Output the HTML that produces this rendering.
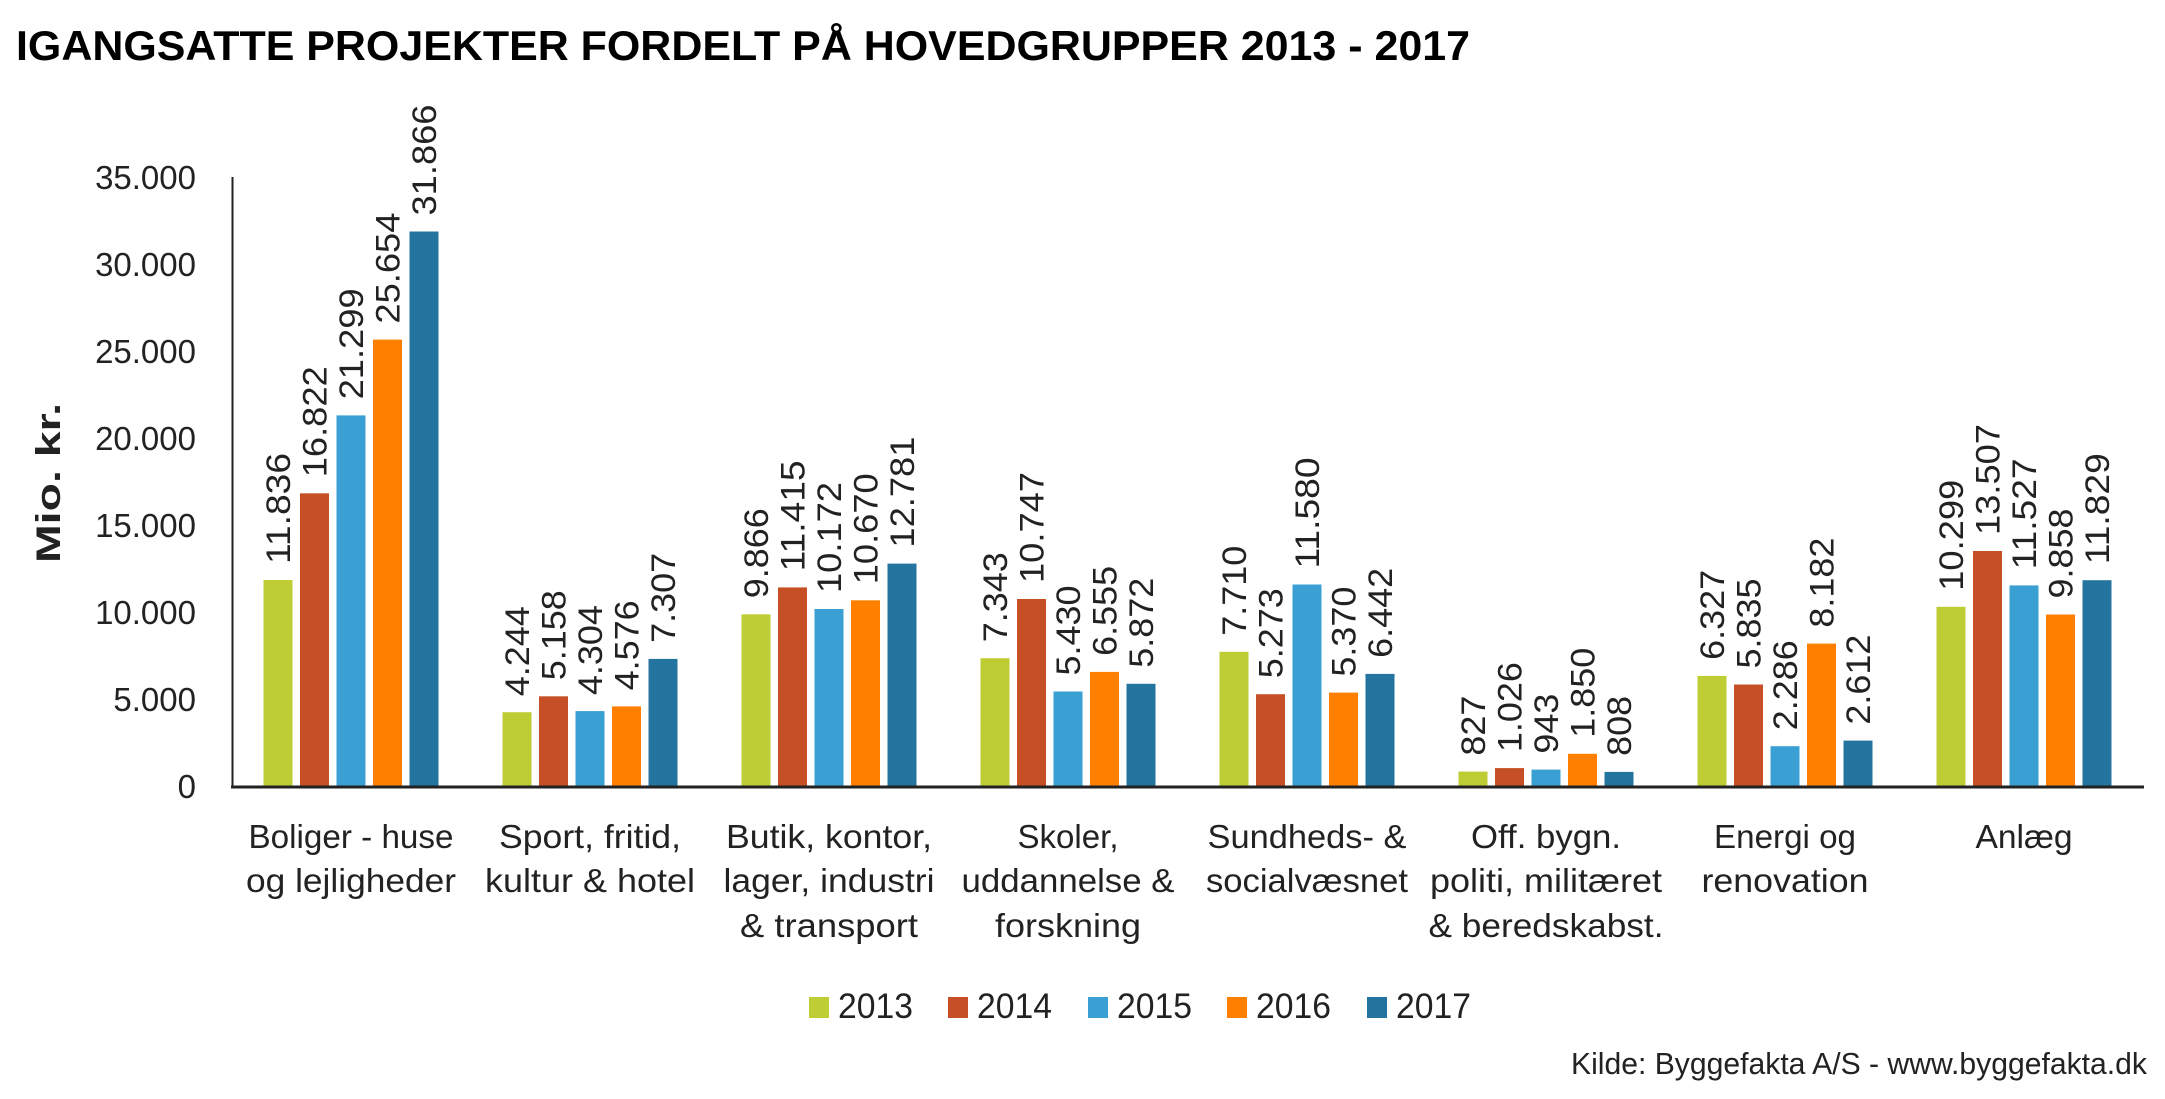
<!DOCTYPE html>
<html><head><meta charset="utf-8"><style>
html,body{margin:0;padding:0;background:#fff;}
svg{display:block;font-family:"Liberation Sans",sans-serif;}
</style></head><body>
<svg width="2165" height="1099" viewBox="0 0 2165 1099" xmlns="http://www.w3.org/2000/svg">
<text x="16" y="60" font-size="42" font-weight="bold" textLength="1454" lengthAdjust="spacingAndGlyphs" fill="#000">IGANGSATTE PROJEKTER FORDELT PÅ HOVEDGRUPPER 2013 - 2017</text>

<g font-size="33" fill="#222" text-anchor="end">
<text x="196" y="798">0</text>
<text x="196" y="711">5.000</text>
<text x="196" y="624">10.000</text>
<text x="196" y="537">15.000</text>
<text x="196" y="450">20.000</text>
<text x="196" y="363">25.000</text>
<text x="196" y="276">30.000</text>
<text x="196" y="189">35.000</text>
</g>
<text transform="translate(60,483) rotate(-90)" font-size="34" font-weight="bold" text-anchor="middle" textLength="160" lengthAdjust="spacingAndGlyphs" fill="#222">Mio. kr.</text>

<line x1="232.5" y1="177" x2="232.5" y2="787" stroke="#222" stroke-width="2"/>

<g font-size="34" fill="#222">
<g transform="translate(351,0)">
<rect x="-87.5" y="580" width="29" height="206" fill="#bfcd34"/>
<rect x="-51" y="493.3" width="29" height="292.7" fill="#c74f26"/>
<rect x="-14.5" y="415.4" width="29" height="370.6" fill="#3a9fd3"/>
<rect x="22" y="339.6" width="29" height="446.4" fill="#ff7f00"/>
<rect x="58.5" y="231.5" width="29" height="554.5" fill="#23749e"/>
<text transform="translate(-61,564) rotate(-90)" textLength="111" lengthAdjust="spacingAndGlyphs">11.836</text>
<text transform="translate(-24.5,477.3) rotate(-90)" textLength="111" lengthAdjust="spacingAndGlyphs">16.822</text>
<text transform="translate(12,399.4) rotate(-90)" textLength="111" lengthAdjust="spacingAndGlyphs">21.299</text>
<text transform="translate(48.5,323.6) rotate(-90)" textLength="111" lengthAdjust="spacingAndGlyphs">25.654</text>
<text transform="translate(85,215.5) rotate(-90)" textLength="111" lengthAdjust="spacingAndGlyphs">31.866</text>
</g>
<g transform="translate(590,0)">
<rect x="-87.5" y="712.2" width="29" height="73.8" fill="#bfcd34"/>
<rect x="-51" y="696.3" width="29" height="89.7" fill="#c74f26"/>
<rect x="-14.5" y="711.1" width="29" height="74.9" fill="#3a9fd3"/>
<rect x="22" y="706.4" width="29" height="79.6" fill="#ff7f00"/>
<rect x="58.5" y="658.9" width="29" height="127.1" fill="#23749e"/>
<text transform="translate(-61,696.2) rotate(-90)" textLength="90" lengthAdjust="spacingAndGlyphs">4.244</text>
<text transform="translate(-24.5,680.3) rotate(-90)" textLength="90" lengthAdjust="spacingAndGlyphs">5.158</text>
<text transform="translate(12,695.1) rotate(-90)" textLength="90" lengthAdjust="spacingAndGlyphs">4.304</text>
<text transform="translate(48.5,690.4) rotate(-90)" textLength="90" lengthAdjust="spacingAndGlyphs">4.576</text>
<text transform="translate(85,642.9) rotate(-90)" textLength="90" lengthAdjust="spacingAndGlyphs">7.307</text>
</g>
<g transform="translate(829,0)">
<rect x="-87.5" y="614.3" width="29" height="171.7" fill="#bfcd34"/>
<rect x="-51" y="587.4" width="29" height="198.6" fill="#c74f26"/>
<rect x="-14.5" y="609" width="29" height="177" fill="#3a9fd3"/>
<rect x="22" y="600.3" width="29" height="185.7" fill="#ff7f00"/>
<rect x="58.5" y="563.6" width="29" height="222.4" fill="#23749e"/>
<text transform="translate(-61,598.3) rotate(-90)" textLength="90" lengthAdjust="spacingAndGlyphs">9.866</text>
<text transform="translate(-24.5,571.4) rotate(-90)" textLength="111" lengthAdjust="spacingAndGlyphs">11.415</text>
<text transform="translate(12,593) rotate(-90)" textLength="111" lengthAdjust="spacingAndGlyphs">10.172</text>
<text transform="translate(48.5,584.3) rotate(-90)" textLength="111" lengthAdjust="spacingAndGlyphs">10.670</text>
<text transform="translate(85,547.6) rotate(-90)" textLength="111" lengthAdjust="spacingAndGlyphs">12.781</text>
</g>
<g transform="translate(1068,0)">
<rect x="-87.5" y="658.2" width="29" height="127.8" fill="#bfcd34"/>
<rect x="-51" y="599" width="29" height="187" fill="#c74f26"/>
<rect x="-14.5" y="691.5" width="29" height="94.5" fill="#3a9fd3"/>
<rect x="22" y="671.9" width="29" height="114.1" fill="#ff7f00"/>
<rect x="58.5" y="683.8" width="29" height="102.2" fill="#23749e"/>
<text transform="translate(-61,642.2) rotate(-90)" textLength="90" lengthAdjust="spacingAndGlyphs">7.343</text>
<text transform="translate(-24.5,583) rotate(-90)" textLength="111" lengthAdjust="spacingAndGlyphs">10.747</text>
<text transform="translate(12,675.5) rotate(-90)" textLength="90" lengthAdjust="spacingAndGlyphs">5.430</text>
<text transform="translate(48.5,655.9) rotate(-90)" textLength="90" lengthAdjust="spacingAndGlyphs">6.555</text>
<text transform="translate(85,667.8) rotate(-90)" textLength="90" lengthAdjust="spacingAndGlyphs">5.872</text>
</g>
<g transform="translate(1307,0)">
<rect x="-87.5" y="651.8" width="29" height="134.2" fill="#bfcd34"/>
<rect x="-51" y="694.2" width="29" height="91.8" fill="#c74f26"/>
<rect x="-14.5" y="584.5" width="29" height="201.5" fill="#3a9fd3"/>
<rect x="22" y="692.6" width="29" height="93.4" fill="#ff7f00"/>
<rect x="58.5" y="673.9" width="29" height="112.1" fill="#23749e"/>
<text transform="translate(-61,635.8) rotate(-90)" textLength="90" lengthAdjust="spacingAndGlyphs">7.710</text>
<text transform="translate(-24.5,678.2) rotate(-90)" textLength="90" lengthAdjust="spacingAndGlyphs">5.273</text>
<text transform="translate(12,568.5) rotate(-90)" textLength="111" lengthAdjust="spacingAndGlyphs">11.580</text>
<text transform="translate(48.5,676.6) rotate(-90)" textLength="90" lengthAdjust="spacingAndGlyphs">5.370</text>
<text transform="translate(85,657.9) rotate(-90)" textLength="90" lengthAdjust="spacingAndGlyphs">6.442</text>
</g>
<g transform="translate(1546,0)">
<rect x="-87.5" y="771.6" width="29" height="14.4" fill="#bfcd34"/>
<rect x="-51" y="768.1" width="29" height="17.9" fill="#c74f26"/>
<rect x="-14.5" y="769.6" width="29" height="16.4" fill="#3a9fd3"/>
<rect x="22" y="753.8" width="29" height="32.2" fill="#ff7f00"/>
<rect x="58.5" y="771.9" width="29" height="14.1" fill="#23749e"/>
<text transform="translate(-61,755.6) rotate(-90)" textLength="60" lengthAdjust="spacingAndGlyphs">827</text>
<text transform="translate(-24.5,752.1) rotate(-90)" textLength="90" lengthAdjust="spacingAndGlyphs">1.026</text>
<text transform="translate(12,753.6) rotate(-90)" textLength="60" lengthAdjust="spacingAndGlyphs">943</text>
<text transform="translate(48.5,737.8) rotate(-90)" textLength="90" lengthAdjust="spacingAndGlyphs">1.850</text>
<text transform="translate(85,755.9) rotate(-90)" textLength="60" lengthAdjust="spacingAndGlyphs">808</text>
</g>
<g transform="translate(1785,0)">
<rect x="-87.5" y="675.9" width="29" height="110.1" fill="#bfcd34"/>
<rect x="-51" y="684.5" width="29" height="101.5" fill="#c74f26"/>
<rect x="-14.5" y="746.2" width="29" height="39.8" fill="#3a9fd3"/>
<rect x="22" y="643.6" width="29" height="142.4" fill="#ff7f00"/>
<rect x="58.5" y="740.6" width="29" height="45.4" fill="#23749e"/>
<text transform="translate(-61,659.9) rotate(-90)" textLength="90" lengthAdjust="spacingAndGlyphs">6.327</text>
<text transform="translate(-24.5,668.5) rotate(-90)" textLength="90" lengthAdjust="spacingAndGlyphs">5.835</text>
<text transform="translate(12,730.2) rotate(-90)" textLength="90" lengthAdjust="spacingAndGlyphs">2.286</text>
<text transform="translate(48.5,627.6) rotate(-90)" textLength="90" lengthAdjust="spacingAndGlyphs">8.182</text>
<text transform="translate(85,724.6) rotate(-90)" textLength="90" lengthAdjust="spacingAndGlyphs">2.612</text>
</g>
<g transform="translate(2024,0)">
<rect x="-87.5" y="606.8" width="29" height="179.2" fill="#bfcd34"/>
<rect x="-51" y="551" width="29" height="235" fill="#c74f26"/>
<rect x="-14.5" y="585.4" width="29" height="200.6" fill="#3a9fd3"/>
<rect x="22" y="614.5" width="29" height="171.5" fill="#ff7f00"/>
<rect x="58.5" y="580.2" width="29" height="205.8" fill="#23749e"/>
<text transform="translate(-61,590.8) rotate(-90)" textLength="111" lengthAdjust="spacingAndGlyphs">10.299</text>
<text transform="translate(-24.5,535) rotate(-90)" textLength="111" lengthAdjust="spacingAndGlyphs">13.507</text>
<text transform="translate(12,569.4) rotate(-90)" textLength="111" lengthAdjust="spacingAndGlyphs">11.527</text>
<text transform="translate(48.5,598.5) rotate(-90)" textLength="90" lengthAdjust="spacingAndGlyphs">9.858</text>
<text transform="translate(85,564.2) rotate(-90)" textLength="111" lengthAdjust="spacingAndGlyphs">11.829</text>
</g>
</g>

<line x1="231" y1="787" x2="2144" y2="787" stroke="#222" stroke-width="3"/>

<g font-size="33" fill="#222" text-anchor="middle">
<text x="351" y="848" textLength="205" lengthAdjust="spacingAndGlyphs">Boliger - huse</text><text x="351" y="892" textLength="210" lengthAdjust="spacingAndGlyphs">og lejligheder</text>
<text x="590" y="848" textLength="182" lengthAdjust="spacingAndGlyphs">Sport, fritid,</text><text x="590" y="892" textLength="210" lengthAdjust="spacingAndGlyphs">kultur &amp; hotel</text>
<text x="829" y="848" textLength="206" lengthAdjust="spacingAndGlyphs">Butik, kontor,</text><text x="829" y="892" textLength="211" lengthAdjust="spacingAndGlyphs">lager, industri</text><text x="829" y="937" textLength="178" lengthAdjust="spacingAndGlyphs">&amp; transport</text>
<text x="1068" y="848" textLength="101" lengthAdjust="spacingAndGlyphs">Skoler,</text><text x="1068" y="892" textLength="213" lengthAdjust="spacingAndGlyphs">uddannelse &amp;</text><text x="1068" y="937" textLength="146" lengthAdjust="spacingAndGlyphs">forskning</text>
<text x="1307" y="848" textLength="199" lengthAdjust="spacingAndGlyphs">Sundheds- &amp;</text><text x="1307" y="892" textLength="202" lengthAdjust="spacingAndGlyphs">socialvæsnet</text>
<text x="1546" y="848" textLength="150" lengthAdjust="spacingAndGlyphs">Off. bygn.</text><text x="1546" y="892" textLength="232" lengthAdjust="spacingAndGlyphs">politi, militæret</text><text x="1546" y="937" textLength="235" lengthAdjust="spacingAndGlyphs">&amp; beredskabst.</text>
<text x="1785" y="848" textLength="142" lengthAdjust="spacingAndGlyphs">Energi og</text><text x="1785" y="892" textLength="167" lengthAdjust="spacingAndGlyphs">renovation</text>
<text x="2024" y="848" textLength="97" lengthAdjust="spacingAndGlyphs">Anlæg</text>
</g>

<g font-size="35" fill="#222">
<rect x="809" y="997" width="20" height="21" fill="#bfcd34"/><text x="838" y="1018" textLength="75" lengthAdjust="spacingAndGlyphs">2013</text>
<rect x="948" y="997" width="20" height="21" fill="#c74f26"/><text x="977" y="1018" textLength="75" lengthAdjust="spacingAndGlyphs">2014</text>
<rect x="1088" y="997" width="20" height="21" fill="#3a9fd3"/><text x="1117" y="1018" textLength="75" lengthAdjust="spacingAndGlyphs">2015</text>
<rect x="1227" y="997" width="20" height="21" fill="#ff7f00"/><text x="1256" y="1018" textLength="75" lengthAdjust="spacingAndGlyphs">2016</text>
<rect x="1367" y="997" width="20" height="21" fill="#23749e"/><text x="1396" y="1018" textLength="75" lengthAdjust="spacingAndGlyphs">2017</text>
</g>
<text x="2147" y="1074" font-size="31" fill="#222" text-anchor="end" textLength="576" lengthAdjust="spacingAndGlyphs">Kilde: Byggefakta A/S - www.byggefakta.dk</text>
</svg>
</body></html>
